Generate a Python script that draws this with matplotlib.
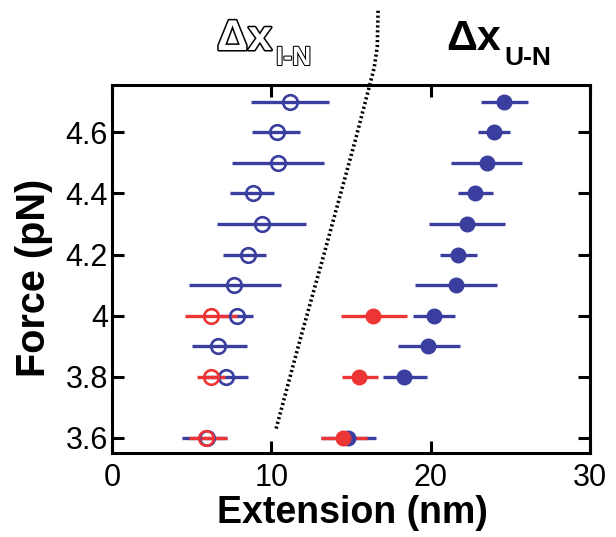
import numpy as np
import matplotlib
matplotlib.use("Agg")
import matplotlib.pyplot as plt
import matplotlib.patheffects as pe

plt.rcParams['font.family'] = ['Liberation Sans', 'DejaVu Sans']

# force levels (pN)
force = [4.7, 4.6, 4.5, 4.4, 4.3, 4.2, 4.1, 4.0, 3.9, 3.8, 3.6]

# dx I-N (open symbols), centre and error-bar ends (nm)
in_x = [11.17, 10.38, 10.44, 8.87, 9.39, 8.52, 7.68, 7.83, 6.67, 7.16, 5.98]
in_lo = [8.74, 8.77, 7.55, 7.40, 6.57, 6.95, 4.81, 6.83, 5.00, 5.80, 4.37]
in_hi = [13.60, 11.80, 13.30, 10.17, 12.20, 9.67, 10.59, 8.83, 8.45, 8.52, 7.20]

# dx U-N (filled symbols)
un_x = [24.60, 23.98, 23.52, 22.80, 22.30, 21.72, 21.57, 20.23, 19.86, 18.33, 14.83]
un_lo = [23.14, 23.00, 21.30, 21.74, 19.92, 20.57, 19.02, 18.87, 17.93, 16.99, 13.10]
un_hi = [26.13, 25.00, 25.76, 23.93, 24.64, 22.90, 24.17, 21.53, 21.85, 19.75, 16.57]

# second data set (red)
red_force = [4.0, 3.8, 3.6]
red_in_x = [6.21, 6.19, 5.90]
red_in_lo = [4.58, 5.31, 4.85]
red_in_hi = [7.84, 7.10, 7.20]
red_un_x = [16.36, 15.52, 14.51]
red_un_lo = [14.37, 14.45, 13.12]
red_un_hi = [18.50, 16.71, 15.98]

# dotted boundary curve
curve_x = [10.3, 11.8, 13.3, 15.25, 16.15, 16.45, 16.65, 16.7]
curve_f = [3.63, 3.92, 4.2, 4.57, 4.75, 4.81, 4.88, 5.0]

yticks = [3.6, 3.8, 4.0, 4.2, 4.4, 4.6]
ytick_labels = ['3.6', '3.8', '4', '4.2', '4.4', '4.6']
xticks = [0, 10, 20, 30]

blue = '#3a3e9e'
red = '#ee3535'


def xerr(c, lo, hi):
    c = np.array(c)
    return np.vstack([c - np.array(lo), np.array(hi) - c])


fig = plt.figure(figsize=(6.16, 5.37), dpi=100)
ax = fig.add_axes([0.1818, 0.1564, 0.7760, 0.6853])

lw = 2.4
ms = 10.5
ax.errorbar(in_x, force, xerr=xerr(in_x, in_lo, in_hi), fmt='o', color=blue,
            mfc='none', mec=blue, mew=1.9, ms=ms, elinewidth=lw, capsize=0)
ax.errorbar(un_x, force, xerr=xerr(un_x, un_lo, un_hi), fmt='o', color=blue,
            mfc=blue, mec=blue, ms=ms, elinewidth=lw, capsize=0)
ax.errorbar(red_in_x, red_force, xerr=xerr(red_in_x, red_in_lo, red_in_hi), fmt='o',
            color=red, mfc='none', mec=red, mew=1.9, ms=ms, elinewidth=lw, capsize=0)
ax.errorbar(red_un_x, red_force, xerr=xerr(red_un_x, red_un_lo, red_un_hi), fmt='o',
            color=red, mfc=red, mec=red, ms=ms, elinewidth=lw, capsize=0)

ax.plot(curve_x, curve_f, color='black', lw=2.6, linestyle=(0, (0.6, 0.75)),
        clip_on=False)

ax.set_xlim(0, 30)
ax.set_ylim(3.55, 4.755)
ax.set_xticks(xticks)
ax.set_yticks(yticks)
ax.set_yticklabels(ytick_labels)
ax.tick_params(direction='in', length=8.5, width=2.2, labelsize=22,
               top=True, right=True)
ax.tick_params(axis='x', pad=7.5)
ax.tick_params(axis='y', pad=3)
for s in ax.spines.values():
    s.set_linewidth(2.2)

ax.set_xlabel('Extension (nm)', fontsize=27, fontweight='bold')
ax.set_ylabel('Force (pN)', fontsize=28.5, fontweight='bold')
ax.xaxis.label.set_va('baseline')
ax.yaxis.label.set_va('baseline')
ax.xaxis.set_label_coords(0.502, -0.19)
ax.yaxis.set_label_coords(-0.140, 0.477)

# headers above the plot
outline = [pe.Stroke(linewidth=2.2, foreground='black'), pe.Normal()]
outline_thin = [pe.Stroke(linewidth=1.5, foreground='black'), pe.Normal()]
fig.text(217 / 616, 1 - 50 / 537, '\u0394x', fontsize=31, fontweight='bold',
         color='white', path_effects=outline, ha='left', va='baseline')
fig.text(276 / 616, 1 - 65 / 537, 'I-N', fontsize=19, fontweight='bold',
         color='white', path_effects=outline_thin, ha='left', va='baseline')
fig.text(446 / 616, 1 - 50 / 537, '\u0394x', fontsize=31, fontweight='bold',
         color='black', ha='left', va='baseline')
fig.text(504 / 616, 1 - 65 / 537, 'U-N', fontsize=19, fontweight='bold',
         color='black', ha='left', va='baseline')

fig.savefig('out.png', dpi=100)
